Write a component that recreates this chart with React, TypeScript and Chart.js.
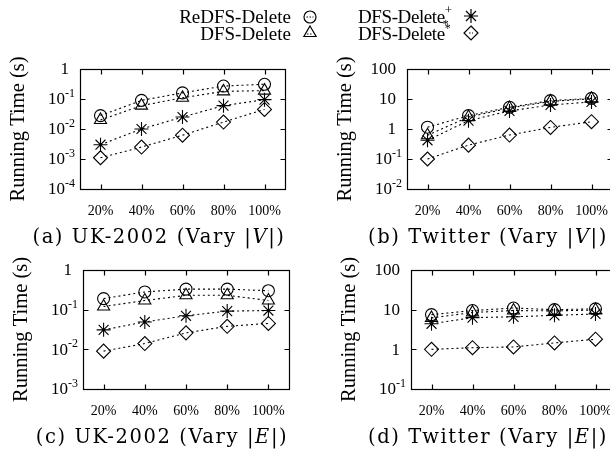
import React, { useEffect, useRef } from 'react';
import { Chart, registerables } from 'chart.js';

Chart.register(...registerables);

const SERIF = '"Liberation Serif", "Times New Roman", serif';
const CAPFONT = '"DejaVu Serif", serif';

// ---------- data ----------
const xLabels = ['20%', '40%', '60%', '80%', '100%'];
const seriesNames = ['ReDFS-Delete', 'DFS-Delete', 'DFS-Delete+', 'DFS-Delete*'];

// (a) UK-2002, vary |V|
const ukV_redfs = [0.028, 0.09, 0.16, 0.27, 0.31];
const ukV_dfs = [0.02, 0.06, 0.11, 0.18, 0.19];
const ukV_plus = [0.003, 0.01, 0.025, 0.06, 0.095];
const ukV_star = [0.0011, 0.0025, 0.0062, 0.017, 0.045];

// (b) Twitter, vary |V|
const twV_redfs = [1.15, 2.8, 5.3, 8.8, 10.5];
const twV_dfs = [0.62, 2.5, 5.0, 8.3, 10.2];
const twV_plus = [0.42, 1.9, 4.0, 6.3, 8.0];
const twV_star = [0.1, 0.29, 0.63, 1.13, 1.75];

// (c) UK-2002, vary |E|
const ukE_redfs = [0.19, 0.28, 0.33, 0.33, 0.3];
const ukE_dfs = [0.12, 0.17, 0.23, 0.23, 0.17];
const ukE_plus = [0.031, 0.049, 0.07, 0.092, 0.095];
const ukE_star = [0.009, 0.014, 0.026, 0.038, 0.045];

// (d) Twitter, vary |E|
const twE_redfs = [7.5, 9.5, 11, 10, 10.5];
const twE_dfs = [6.2, 8.5, 9.5, 9.3, 9.8];
const twE_plus = [4.4, 6.3, 6.6, 7.2, 7.8];
const twE_star = [1.0, 1.1, 1.15, 1.45, 1.8];

// y tick values (decades)
const yTicksA = [1e-4, 1e-3, 1e-2, 1e-1, 1];
const yTicksB = [1e-2, 1e-1, 1, 10, 100];
const yTicksC = [1e-3, 1e-2, 1e-1, 1];
const yTicksD = [1e-1, 1, 10, 100];

// ---------- styles ----------
const pointStyles = ['circle', 'triangle', 'star', 'rectRot'];
const pointRadii = [6, 7, 7, 7];

const CANVAS_W = 640;
const CANVAS_H = 453;
const Y_AXIS_W = 74;
const X_AXIS_H = 40;

type Box = { L: number; R: number; T: number; B: number };

const panels = [
  { id: 'a', series: [ukV_redfs, ukV_dfs, ukV_plus, ukV_star], yTicks: yTicksA, box: { L: 80, R: 285, T: 69, B: 189 }, cap: ['(a) UK-2002 (Vary |', 'V', '|)'], capX: 159, capY: 237 },
  { id: 'b', series: [twV_redfs, twV_dfs, twV_plus, twV_star], yTicks: yTicksB, box: { L: 407, R: 612, T: 69, B: 189 }, cap: ['(b) Twitter (Vary |', 'V', '|)'], capX: 488, capY: 237 },
  { id: 'c', series: [ukE_redfs, ukE_dfs, ukE_plus, ukE_star], yTicks: yTicksC, box: { L: 83, R: 289, T: 270, B: 389 }, cap: ['(c) UK-2002 (Vary |', 'E', '|)'], capX: 162, capY: 437 },
  { id: 'd', series: [twE_redfs, twE_dfs, twE_plus, twE_star], yTicks: yTicksD, box: { L: 411, R: 616, T: 270, B: 389 }, cap: ['(d) Twitter (Vary |', 'E', '|)'], capX: 488, capY: 437 },
];

function framePlugin(yTicks: number[]) {
  return {
    id: 'frameTicks',
    afterDatasetsDraw(chart: any) {
      const { ctx, chartArea: a } = chart;
      const xs = chart.scales.x;
      const ys = chart.scales.y;
      const l = Math.round(a.left) + 0.5;
      const r = Math.round(a.right) + 0.5;
      const t = Math.round(a.top) + 0.5;
      const b = Math.round(a.bottom) + 0.5;
      ctx.save();
      ctx.setLineDash([]);
      ctx.strokeStyle = '#000';
      ctx.lineWidth = 1.2;
      ctx.strokeRect(l, t, r - l, b - t);
      ctx.beginPath();
      for (let i = 0; i < xLabels.length; i++) {
        const px = Math.round(xs.getPixelForValue(i)) + 0.5;
        ctx.moveTo(px, b); ctx.lineTo(px, b - 5);
        ctx.moveTo(px, t); ctx.lineTo(px, t + 5);
      }
      for (const v of yTicks) {
        const py = Math.round(ys.getPixelForValue(v)) + 0.5;
        ctx.moveTo(l, py); ctx.lineTo(l + 5, py);
        ctx.moveTo(r, py); ctx.lineTo(r - 5, py);
      }
      ctx.stroke();
      // y tick labels with superscript exponents
      ctx.fillStyle = '#000';
      ctx.textBaseline = 'middle';
      ctx.textAlign = 'right';
      for (const v of yTicks) {
        const py = ys.getPixelForValue(v);
        const e = Math.round(Math.log10(v));
        if (e >= 0) {
          ctx.font = `17px ${SERIF}`;
          ctx.fillText(String(Math.round(v)), a.left - 11, py + 1);
        } else {
          const exp = '-' + String(-e);
          ctx.font = `12px ${SERIF}`;
          const ew = ctx.measureText(exp).width;
          ctx.fillText(exp, a.left - 5, py - 5);
          ctx.font = `17px ${SERIF}`;
          ctx.fillText('10', a.left - 5 - ew, py + 1);
        }
      }
      ctx.restore();
    },
  };
}

function PanelChart({ series, yTicks, box }: { series: number[][]; yTicks: number[]; box: Box }) {
  const ref = useRef<HTMLCanvasElement>(null);
  useEffect(() => {
    const canvas = ref.current;
    if (!canvas) return;
    const chart = new Chart(canvas, {
      type: 'line',
      data: {
        labels: xLabels,
        datasets: series.map((d, i) => ({
          label: seriesNames[i],
          data: d,
          borderColor: '#000',
          backgroundColor: 'rgba(0,0,0,0)',
          borderWidth: 1.1,
          borderDash: [2, 3],
          pointStyle: pointStyles[i] as any,
          pointRadius: pointRadii[i],
          pointBorderWidth: 1.1,
          pointBorderColor: '#000',
          pointBackgroundColor: 'rgba(0,0,0,0)',
          fill: false,
          tension: 0,
        })),
      },
      options: {
        responsive: false,
        animation: false,
        devicePixelRatio: 1,
        events: [],
        layout: {
          padding: {
            left: box.L - Y_AXIS_W,
            right: CANVAS_W - box.R,
            top: box.T,
            bottom: CANVAS_H - box.B - X_AXIS_H,
          },
        },
        plugins: { legend: { display: false }, tooltip: { enabled: false }, title: { display: false } },
        scales: {
          x: {
            type: 'category',
            offset: true,
            grid: { display: false },
            border: { display: false },
            ticks: { color: '#000', font: { family: SERIF, size: 14 }, padding: 6, maxRotation: 0, autoSkip: false },
            afterFit: (s: any) => { s.height = X_AXIS_H; },
          },
          y: {
            type: 'logarithmic',
            min: yTicks[0],
            max: yTicks[yTicks.length - 1],
            grid: { display: false },
            border: { display: false },
            ticks: { display: false },
            title: { display: true, text: 'Running Time (s)', color: '#000', font: { family: SERIF, size: 20.5 }, padding: 0 },
            afterFit: (s: any) => { s.width = Y_AXIS_W; },
          },
        },
      },
      plugins: [framePlugin(yTicks)],
    });
    return () => chart.destroy();
  }, []);
  return <canvas ref={ref} width={CANVAS_W} height={CANVAS_H} style={{ position: 'absolute', left: 0, top: 0 }} />;
}

function CircleMark() {
  return (
    <svg width="16" height="16" viewBox="-8 -8 16 16" style={{ overflow: 'visible', display: 'block' }}>
      <circle cx="0" cy="0" r="6" fill="none" stroke="#000" strokeWidth="1.2" />
      <line x1="-3.5" y1="0" x2="3.5" y2="0" stroke="#000" strokeWidth="1" strokeDasharray="1.5 1.5" />
    </svg>
  );
}
function TriangleMark() {
  return (
    <svg width="16" height="16" viewBox="-8 -8 16 16" style={{ overflow: 'visible', display: 'block' }}>
      <polygon points="0,-7 6.1,3.5 -6.1,3.5" fill="none" stroke="#000" strokeWidth="1.2" />
      <line x1="-3" y1="1" x2="3" y2="1" stroke="#000" strokeWidth="1" strokeDasharray="1.5 1.5" />
    </svg>
  );
}
function StarMark() {
  return (
    <svg width="16" height="16" viewBox="-8 -8 16 16" style={{ overflow: 'visible', display: 'block' }}>
      <path d="M-7,0 L7,0 M0,-7 L0,7 M-5,-5 L5,5 M-5,5 L5,-5" stroke="#000" strokeWidth="1.2" />
    </svg>
  );
}
function DiamondMark() {
  return (
    <svg width="16" height="16" viewBox="-8 -8 16 16" style={{ overflow: 'visible', display: 'block' }}>
      <polygon points="0,-7 7,0 0,7 -7,0" fill="none" stroke="#000" strokeWidth="1.2" />
      <line x1="-2" y1="0" x2="2" y2="0" stroke="#000" strokeWidth="1" strokeDasharray="1.5 1.5" />
    </svg>
  );
}

const legText: React.CSSProperties = {
  position: 'absolute',
  fontFamily: SERIF,
  fontSize: 19,
  lineHeight: '19px',
  whiteSpace: 'nowrap',
  color: '#000',
};

function Legend() {
  const mark = (x: number, y: number, el: React.ReactNode) => (
    <div style={{ position: 'absolute', left: x - 8, top: y - 8, width: 16, height: 16 }}>{el}</div>
  );
  return (
    <>
      <div style={{ ...legText, left: 100, width: 191, top: 7, textAlign: 'right' }}>{seriesNames[0]}</div>
      <div style={{ ...legText, left: 100, width: 191, top: 23.5, textAlign: 'right' }}>{seriesNames[1]}</div>
      {mark(310, 17, <CircleMark />)}
      {mark(310, 33, <TriangleMark />)}
      <div style={{ ...legText, left: 358, top: 7, letterSpacing: '-0.4px' }}>
        DFS-Delete
        <span style={{ position: 'relative', top: -9, fontSize: 13 }}>+</span>
        <span style={{ position: 'relative', left: -9, top: 5, fontSize: 12 }}>*</span>
      </div>
      <div style={{ ...legText, left: 358, top: 23.5, letterSpacing: '-0.4px' }}>
        DFS-Delete
        <span style={{ position: 'relative', top: -8, fontSize: 12 }}>*</span>
      </div>
      {mark(471, 16, <StarMark />)}
      {mark(471, 33, <DiamondMark />)}
    </>
  );
}

export default function App() {
  return (
    <div style={{ position: 'absolute', left: 0, top: 0, width: 610, height: 453, overflow: 'hidden', background: '#fff' }}>
      {panels.map((p) => (
        <PanelChart key={p.id} series={p.series} yTicks={p.yTicks} box={p.box} />
      ))}
      {panels.map((p) => (
        <div
          key={'cap' + p.id}
          style={{
            position: 'absolute',
            left: p.capX - 160,
            width: 320,
            top: p.capY - 12,
            lineHeight: '24px',
            textAlign: 'center',
            fontFamily: CAPFONT,
            fontSize: 19.5,
            letterSpacing: '1.6px',
            whiteSpace: 'nowrap',
            color: '#000',
          }}
        >
          {p.cap[0]}
          <i>{p.cap[1]}</i>
          {p.cap[2]}
        </div>
      ))}
      <Legend />
    </div>
  );
}
